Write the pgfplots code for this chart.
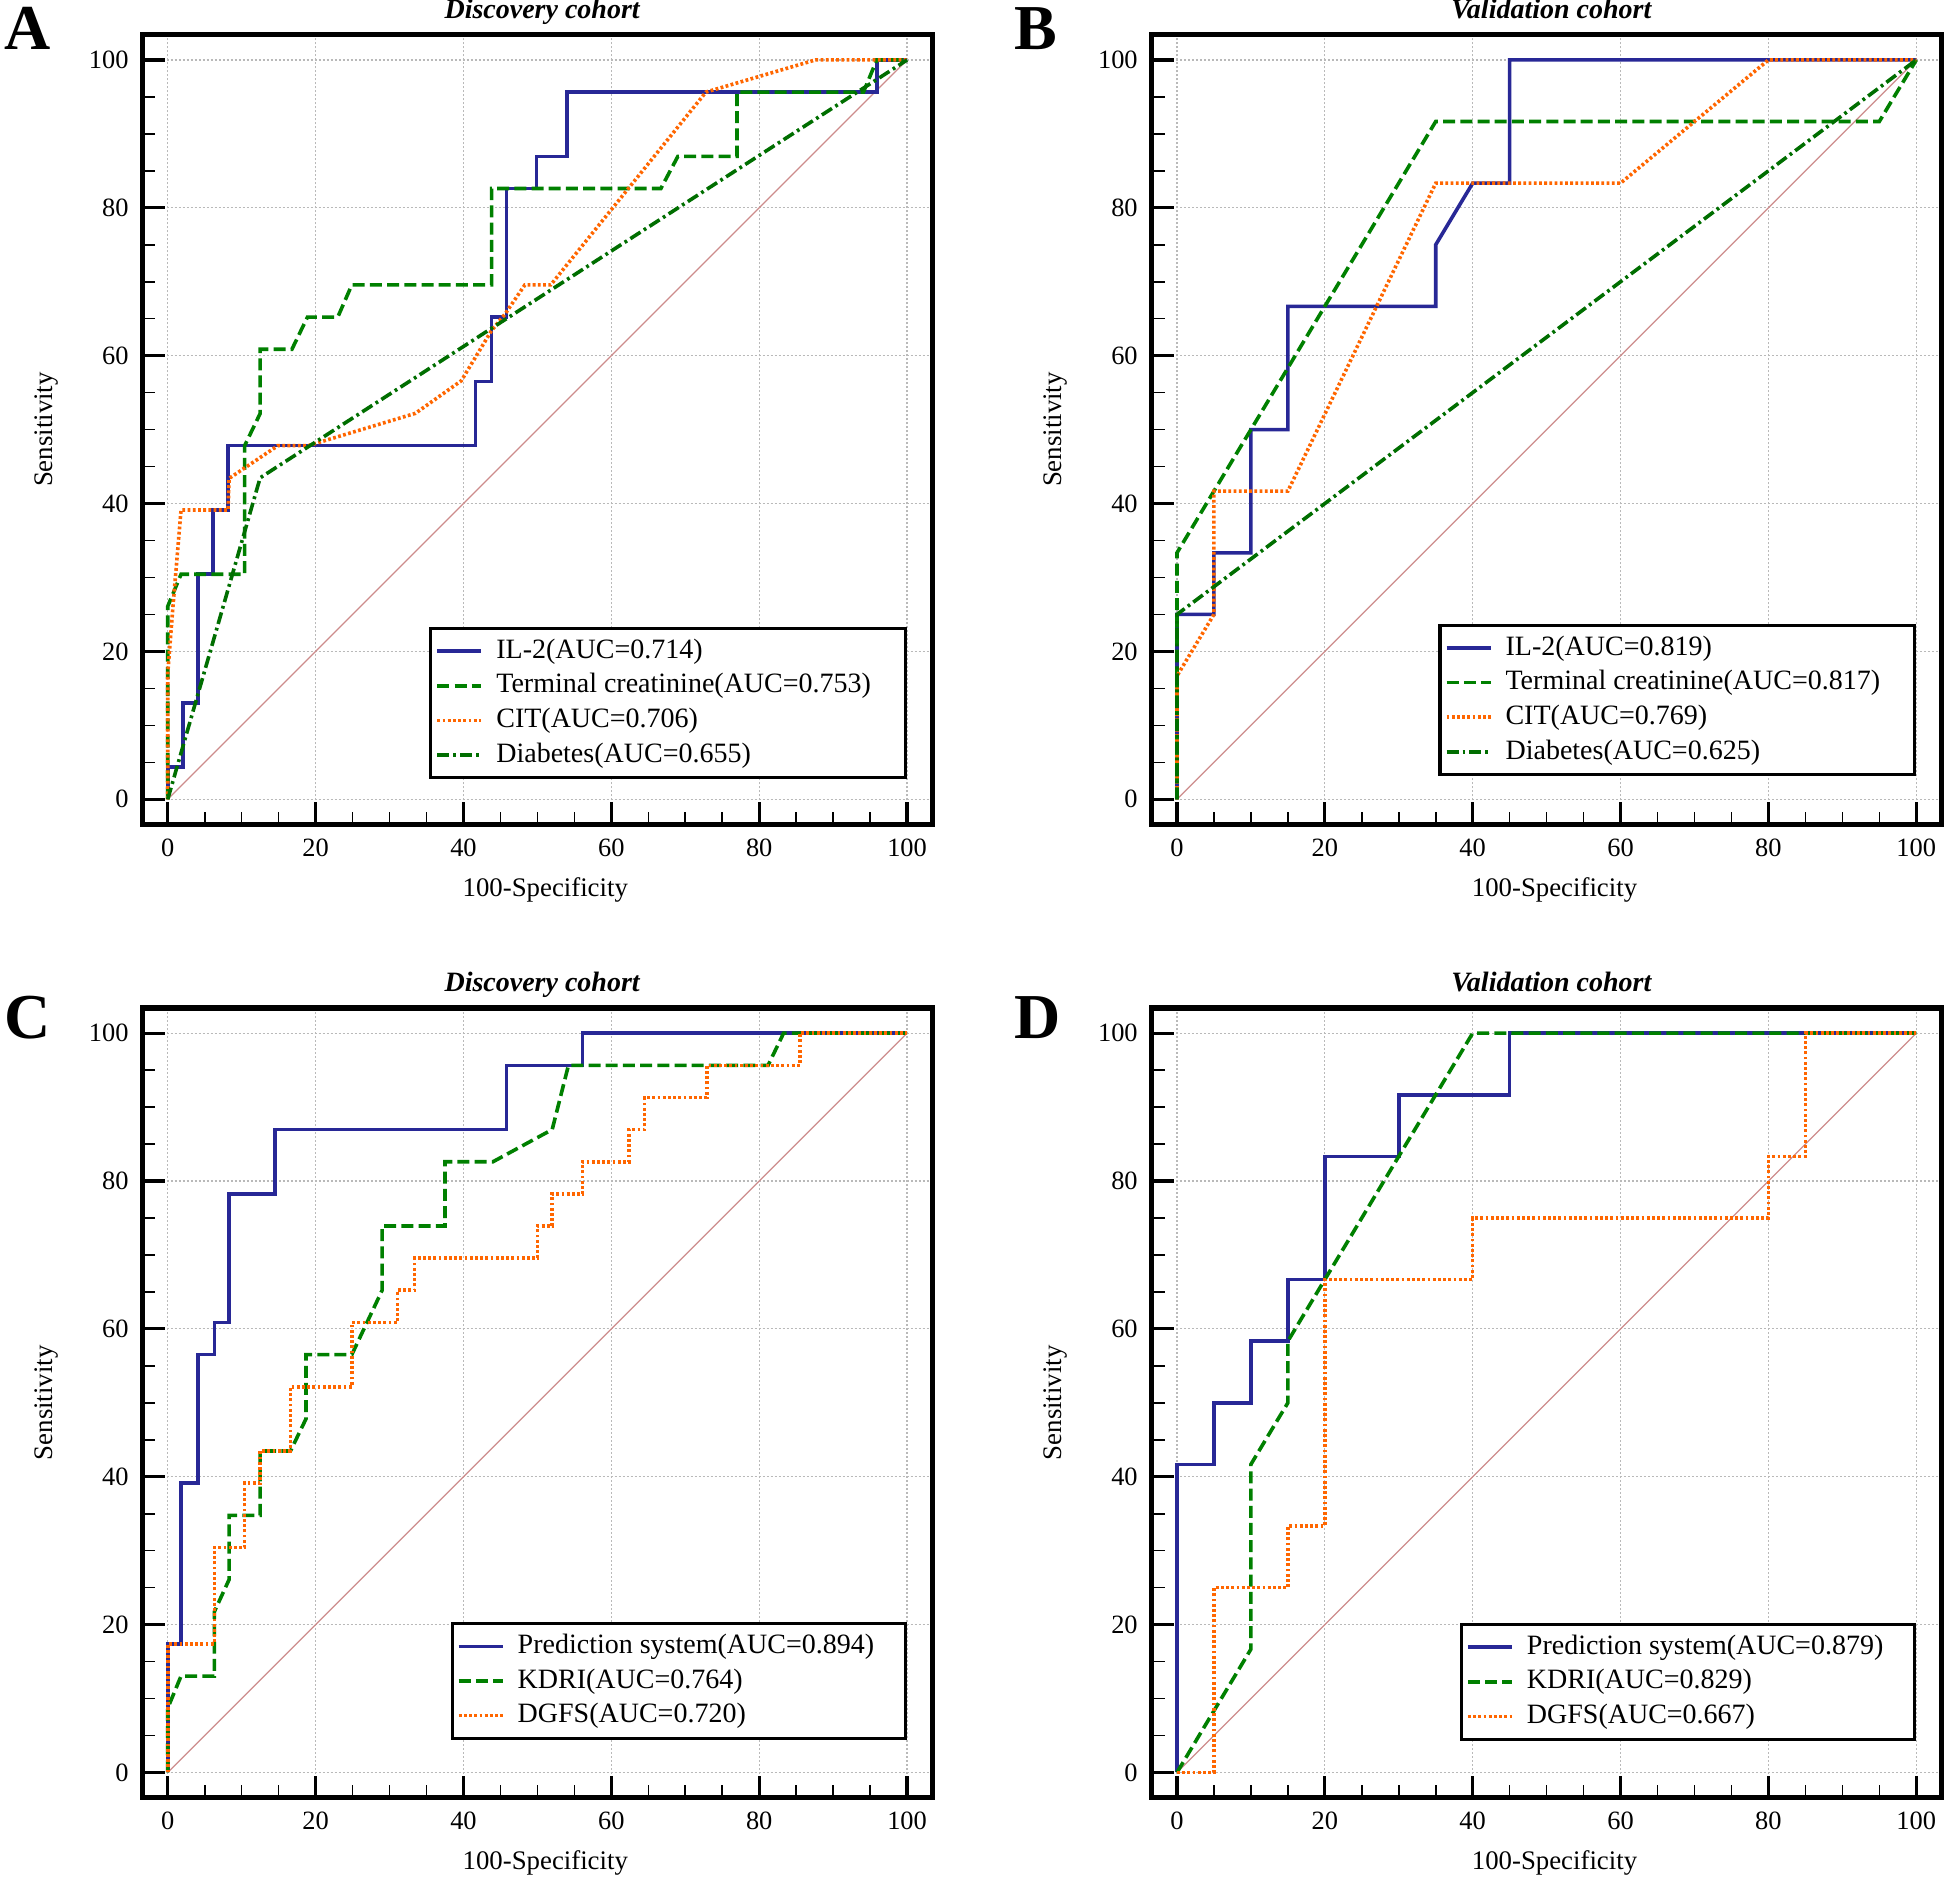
\documentclass[border=0pt]{standalone}
\usepackage{fontspec}
\setmainfont{Liberation Serif}
\usepackage{pgfplots}
\pgfplotsset{compat=1.18}

\definecolor{rocblue}{RGB}{40,40,150}
\definecolor{rocgreen}{RGB}{0,128,0}
\definecolor{rocorange}{RGB}{255,102,0}
\definecolor{rocdkgreen}{RGB}{0,110,0}
\definecolor{rocdiag}{RGB}{205,140,140}

\pgfplotsset{
  rocaxis/.style={
    width=197.4pt, height=197.4pt, scale only axis,
    xmin=-3.4, xmax=103.4, ymin=-3.4, ymax=103.4,
    xtick={0,20,...,100}, ytick={0,20,...,100},
    minor x tick num=3, minor y tick num=3,
    tick align=inside, tick pos=left,
    major tick length=5.5pt, minor tick length=3.2pt,
    every major tick/.append style={line width=0.8pt, black},
    every minor tick/.append style={line width=0.4pt, black},
    axis line style={line width=1.3pt},
    grid=major,
    major grid style={gray!55, line width=0.3pt, dash pattern=on 0.5pt off 0.5pt},
    tick label style={font=\fontsize{6.6}{7}\selectfont},
    /pgf/number format/assume math mode=true,
    xticklabel style={anchor=center, yshift=-5.9pt},
    label style={font=\fontsize{6.7}{8}\selectfont},
    xlabel={100-Specificity}, ylabel={Sensitivity},
    xlabel style={at={(axis description cs:0.51,-0.083)}, anchor=center},
    ylabel style={at={(axis description cs:-0.1223,0.5)}, anchor=center},
    every axis title shift=0pt,
    title style={font=\fontsize{7}{8}\selectfont\bfseries\itshape,
      at={(axis description cs:0.506,1.0203)}, anchor=base},
    no markers,
    legend cell align=left,
    legend image code/.code={\draw[##1] (1pt,0pt) -- (12pt,0pt); \path (13.5pt,0pt);},
    legend style={draw=black, line width=0.8pt, font=\fontsize{7}{8}\selectfont,
      anchor=south east, inner xsep=1.2pt, inner ysep=2pt, row sep=1.25pt,
      nodes={inner xsep=1.8pt, inner ysep=0.3pt, text height=5.2pt, text depth=1.6pt}},
  },
  s1/.style={rocblue, line width=0.9pt},
  s2/.style={rocgreen, line width=0.9pt, dash pattern=on 3pt off 1.3pt},
  s3/.style={rocorange, line width=0.9pt, dash pattern=on 0.7pt off 0.6pt},
  s4/.style={rocdkgreen, line width=0.9pt, dash pattern=on 3pt off 1pt on 0.7pt off 1pt},
  diag/.style={rocdiag, line width=0.3pt, forget plot},
}

\begin{document}
\begin{tikzpicture}
\useasboundingbox (0,0) rectangle (486pt,-470.25pt);

% panel letters
\node[anchor=base west, font=\fontsize{16}{16}\selectfont\bfseries, inner sep=0pt] at (1pt,-12.4pt) {A};
\node[anchor=base west, font=\fontsize{16}{16}\selectfont\bfseries, inner sep=0pt] at (253.5pt,-12.4pt) {B};
\node[anchor=base west, font=\fontsize{16}{16}\selectfont\bfseries, inner sep=0pt] at (1pt,-259.7pt) {C};
\node[anchor=base west, font=\fontsize{16}{16}\selectfont\bfseries, inner sep=0pt] at (253.5pt,-259.7pt) {D};

% A
\begin{axis}[rocaxis, at={(35.65pt,-206.1pt)}, anchor=south west,
  title={Discovery cohort}, legend style={at={(0.968,0.057)}}]
\addplot[diag] coordinates {(0,0) (100,100)};
\addplot[s1] coordinates {(0,0)(0,4.35)(2.04,4.35)(2.04,13.04)(4.08,13.04)(4.08,30.43)(6.12,30.43)(6.12,39.13)(8.16,39.13)(8.16,47.83)(41.6,47.83)(41.6,56.52)(43.8,56.52)(43.8,65.22)(45.8,65.22)(45.8,82.61)(49.9,82.61)(49.9,86.96)(54.0,86.96)(54.0,95.65)(95.9,95.65)(95.9,100)(100,100)};
\addlegendentry{IL-2(AUC=0.714)}
\addplot[s2] coordinates {(0,0)(0,26.09)(1.8,30.43)(10.4,30.43)(10.4,47.83)(12.5,52.17)(12.5,60.87)(16.8,60.87)(18.9,65.22)(23.0,65.22)(24.9,69.57)(43.8,69.57)(43.8,82.61)(66.7,82.61)(69.0,86.96)(77.0,86.96)(77.0,95.65)(94.1,95.65)(95.9,100)(100,100)};
\addlegendentry{Terminal creatinine(AUC=0.753)\hspace*{5.6pt}}
\addplot[s3] coordinates {(0,0)(0,17)(0.7,26)(1.8,39.13)(8.16,39.13)(8.3,43.4)(14.9,47.83)(19,47.83)(33.5,52.2)(39.7,56.6)(43.8,63.4)(45.6,65.6)(48.3,69.57)(51.8,69.57)(72.8,95.65)(87.6,100)(100,100)};
\addlegendentry{CIT(AUC=0.706)}
\addplot[s4] coordinates {(0,0)(12.5,43.48)(100,100)};
\addlegendentry{Diabetes(AUC=0.655)}
\end{axis}

% B
\begin{axis}[rocaxis, at={(287.95pt,-206.1pt)}, anchor=south west,
  title={Validation cohort}, legend style={at={(0.968,0.061)}}]
\addplot[diag] coordinates {(0,0) (100,100)};
\addplot[s1] coordinates {(0,0)(0,25)(5,25)(5,33.33)(10,33.33)(10,50)(15,50)(15,66.67)(35,66.67)(35,75)(40,83.33)(45,83.33)(45,100)(100,100)};
\addlegendentry{IL-2(AUC=0.819)}
\addplot[s2] coordinates {(0,0)(0,33.33)(5,41.67)(10,50)(35,91.67)(95,91.67)(100,100)};
\addlegendentry{Terminal creatinine(AUC=0.817)\hspace*{5.6pt}}
\addplot[s3] coordinates {(0,0)(0,16.67)(5,25)(5,41.67)(15,41.67)(35,83.33)(60,83.33)(80,100)(100,100)};
\addlegendentry{CIT(AUC=0.769)}
\addplot[s4] coordinates {(0,0)(0,25)(100,100)};
\addlegendentry{Diabetes(AUC=0.625)}
\end{axis}

% C
\begin{axis}[rocaxis, at={(35.65pt,-449.4pt)}, anchor=south west,
  title={Discovery cohort}, legend style={at={(0.968,0.073)}}]
\addplot[diag] coordinates {(0,0) (100,100)};
\addplot[s1] coordinates {(0,0)(0,17.39)(1.8,17.39)(1.8,39.13)(4.1,39.13)(4.1,56.52)(6.3,56.52)(6.3,60.87)(8.3,60.87)(8.3,78.26)(14.5,78.26)(14.5,86.96)(45.8,86.96)(45.8,95.65)(56.1,95.65)(56.1,100)(100,100)};
\addlegendentry{Prediction system(AUC=0.894)\hspace*{4.8pt}}
\addplot[s2] coordinates {(0,0)(0,8.7)(1.8,13.04)(6.3,13.04)(6.3,21.74)(8.3,26.09)(8.3,34.78)(12.5,34.78)(12.5,43.48)(16.6,43.48)(18.7,47.83)(18.7,56.52)(24.9,56.52)(29.0,65.22)(29.0,73.91)(37.5,73.91)(37.5,82.61)(44.0,82.61)(52.0,86.96)(54.2,95.65)(81.2,95.65)(83.3,100)(100,100)};
\addlegendentry{KDRI(AUC=0.764)}
\addplot[s3] coordinates {(0,0)(0,17.39)(6.3,17.39)(6.3,30.43)(10.4,30.43)(10.4,39.13)(12.5,39.13)(12.5,43.48)(16.6,43.48)(16.6,52.17)(24.9,52.17)(24.9,60.87)(31.1,60.87)(31.1,65.22)(33.4,65.22)(33.4,69.57)(50.0,69.57)(50.0,73.91)(52.0,73.91)(52.0,78.26)(56.1,78.26)(56.1,82.61)(62.4,82.61)(62.4,86.96)(64.5,86.96)(64.5,91.3)(72.9,91.3)(72.9,95.65)(85.5,95.65)(85.5,100)(100,100)};
\addlegendentry{DGFS(AUC=0.720)}
\end{axis}

% D
\begin{axis}[rocaxis, at={(287.95pt,-449.4pt)}, anchor=south west,
  title={Validation cohort}, legend style={at={(0.968,0.072)}}]
\addplot[diag] coordinates {(0,0) (100,100)};
\addplot[s1] coordinates {(0,0)(0,41.67)(5,41.67)(5,50)(10,50)(10,58.33)(15,58.33)(15,66.67)(20,66.67)(20,83.33)(30,83.33)(30,91.67)(45,91.67)(45,100)(100,100)};
\addlegendentry{Prediction system(AUC=0.879)\hspace*{4.8pt}}
\addplot[s2] coordinates {(0,0)(10,16.67)(10,41.67)(15,50)(15,58.33)(40,100)(100,100)};
\addlegendentry{KDRI(AUC=0.829)}
\addplot[s3] coordinates {(0,0)(5,0)(5,25)(15,25)(15,33.33)(20,33.33)(20,66.67)(40,66.67)(40,75)(80,75)(80,83.33)(85,83.33)(85,100)(100,100)};
\addlegendentry{DGFS(AUC=0.667)}
\end{axis}
\end{tikzpicture}
\end{document}
